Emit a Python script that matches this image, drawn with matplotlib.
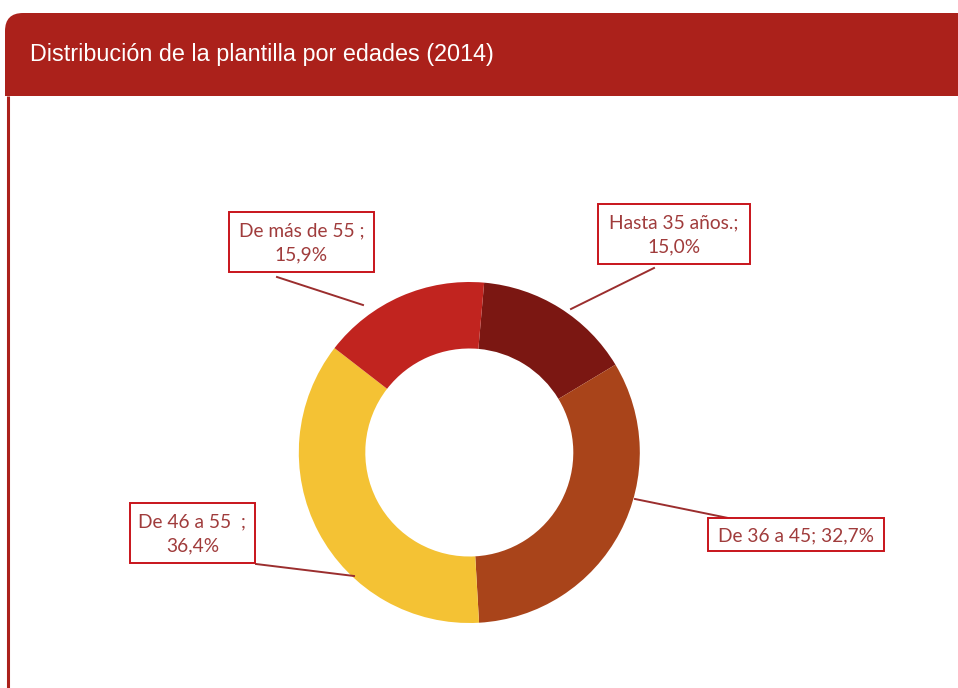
import matplotlib
matplotlib.use("Agg")
import matplotlib.pyplot as plt
from matplotlib.patches import FancyBboxPatch, Rectangle

# ---- data ----
categories = ["Hasta 35 años.", "De 36 a 45", "De 46 a 55 ", "De más de 55 "]
values = [15.0, 32.7, 36.4, 15.9]
label_texts = ["Hasta 35 años.;\n15,0%", "De 36 a 45; 32,7%", "De 46 a 55  ;\n36,4%", "De más de 55 ;\n15,9%"]
colors = ["#7B1712", "#A9441A", "#F4C234", "#C1241F"]
title = "Distribución de la plantilla por edades (2014)"

W, H = 958, 688
fig = plt.figure(figsize=(W / 100, H / 100), dpi=100)
ax = fig.add_axes([0, 0, 1, 1])

def Y(yp):
    return H - yp

# donut
cx, cy, R, r_in = 469.3, Y(452.5), 170.5, 104
ax.pie(values, colors=colors, startangle=85, counterclock=False,
       center=(cx, cy), radius=R,
       wedgeprops=dict(width=R - r_in, edgecolor="none"))

ax.set_xlim(0, W)
ax.set_ylim(0, H)
ax.set_aspect("auto")
ax.axis("off")

# header band
hdr = "#AB211B"
band = FancyBboxPatch((5, Y(125)), 980, 125 - 13, boxstyle="round,pad=0,rounding_size=18",
                      facecolor=hdr, edgecolor="none", zorder=0, mutation_aspect=1)
ax.add_patch(band)
ax.add_patch(Rectangle((0, 0), W, Y(96), facecolor="white", edgecolor="none", zorder=0.5))
ax.plot([8, 8], [Y(96), 0], color=hdr, lw=2.2, zorder=1, solid_capstyle="butt")
ax.text(30, Y(55), title, color="white", fontsize=16.8, family="Liberation Sans",
        va="center", ha="left", zorder=3)

# labels: (box x0, y0, x1, y1), leader line (box-side point, wedge-side point)
boxes = [(598, 204, 750, 264), (708, 518, 884, 551), (130, 503, 255, 563), (229, 212, 374, 272)]
leaders = [((654, 268), (571, 309)), ((733, 519), (635, 499)),
           ((256, 564), (354, 576)), ((277, 277), (363, 305))]
txt_col = "#A03C3C"
line_col = "#9B2E2E"
for lab, (x0, y0, x1, y1), (p, q) in zip(label_texts, boxes, leaders):
    ax.plot([p[0], q[0]], [Y(p[1]), Y(q[1])], color=line_col, lw=1.4, zorder=2)
    ax.add_patch(Rectangle((x0, Y(y1)), x1 - x0, y1 - y0, facecolor="white",
                           edgecolor="#C8141B", lw=1.4, zorder=3))
    ax.text((x0 + x1) / 2, Y((y0 + y1) / 2 + 1), lab, color=txt_col, fontsize=13.8,
            family="Lato", ha="center", va="center", linespacing=1.55, zorder=4)

fig.savefig("out.png", dpi=100)
